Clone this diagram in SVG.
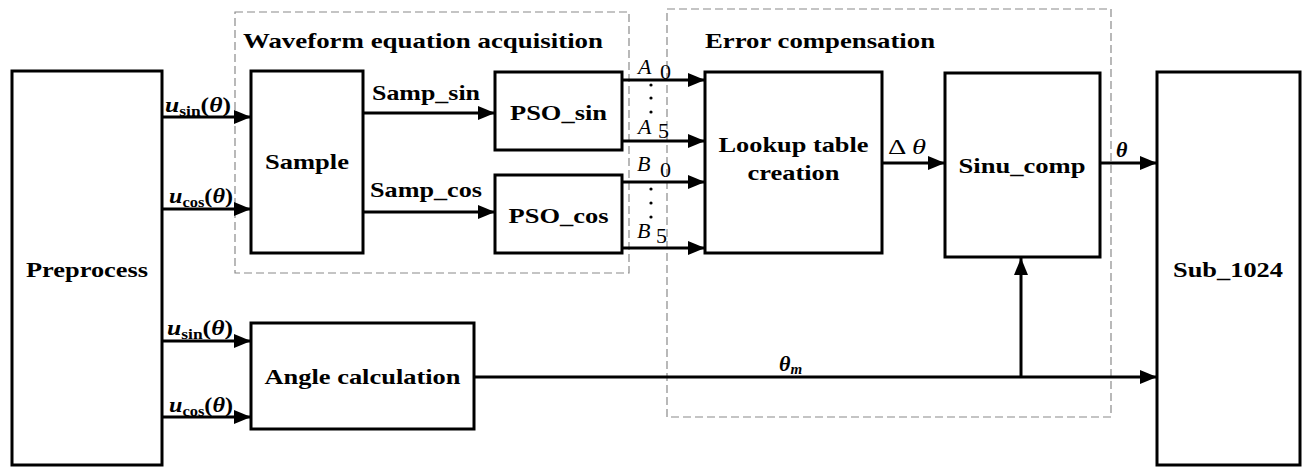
<svg xmlns="http://www.w3.org/2000/svg" width="1304" height="468" viewBox="0 0 1304 468" font-family="'Liberation Serif', 'Times New Roman', Times, serif">
<style>
text{font-family:'Liberation Serif','Times New Roman',Times,serif;fill:#000}
.b{font-weight:bold;font-size:22px}
.t{font-weight:bold;font-size:22px}
.m{font-size:22px}
.box{fill:#fff;stroke:#000;stroke-width:3}
.dash{fill:none;stroke:#8a8a8a;stroke-width:1.2;stroke-dasharray:8 4}
.ln{fill:none;stroke:#000;stroke-width:3}
.i{font-style:italic}
</style>
<defs>
<marker id="ah" markerUnits="userSpaceOnUse" markerWidth="18" markerHeight="14" refX="17" refY="7" orient="auto">
<path d="M0,0 L17,7 L0,14 z" fill="#000"/>
</marker>
</defs>
<rect width="1304" height="468" fill="#fff"/>

<g id="group-waveform">
<rect class="dash" x="235" y="12" width="394" height="261"/>
<text class="t" x="243" y="48" textLength="360" lengthAdjust="spacingAndGlyphs">Waveform equation acquisition</text>
</g>
<g id="group-error">
<rect class="dash" x="667" y="9" width="444" height="408"/>
<text class="t" x="705" y="48" textLength="230" lengthAdjust="spacingAndGlyphs">Error compensation</text>
</g>

<g id="connectors">
<line class="ln" x1="162" y1="117" x2="251" y2="117" marker-end="url(#ah)"/>
<line class="ln" x1="162" y1="209" x2="251" y2="209" marker-end="url(#ah)"/>
<line class="ln" x1="162" y1="341" x2="251" y2="341" marker-end="url(#ah)"/>
<line class="ln" x1="162" y1="417" x2="251" y2="417" marker-end="url(#ah)"/>
<line class="ln" x1="363" y1="113" x2="495" y2="113" marker-end="url(#ah)"/>
<line class="ln" x1="363" y1="212" x2="495" y2="212" marker-end="url(#ah)"/>
<line class="ln" x1="622" y1="80" x2="705" y2="80" marker-end="url(#ah)"/>
<line class="ln" x1="622" y1="141" x2="705" y2="141" marker-end="url(#ah)"/>
<line class="ln" x1="622" y1="182" x2="705" y2="182" marker-end="url(#ah)"/>
<line class="ln" x1="622" y1="248" x2="705" y2="248" marker-end="url(#ah)"/>
<line class="ln" x1="882" y1="163" x2="945" y2="163" marker-end="url(#ah)"/>
<line class="ln" x1="1100" y1="163" x2="1157" y2="163" marker-end="url(#ah)"/>
<line class="ln" x1="474" y1="377" x2="1157" y2="377" marker-end="url(#ah)"/>
<line class="ln" x1="1021" y1="377" x2="1021" y2="258" marker-end="url(#ah)"/>

<text class="b" x="165" y="112" textLength="66" lengthAdjust="spacingAndGlyphs"><tspan class="i">u</tspan><tspan font-size="15" dy="4">sin</tspan><tspan dy="-4">(</tspan><tspan class="i">θ</tspan>)</text>
<text class="b" x="169" y="203" textLength="64" lengthAdjust="spacingAndGlyphs"><tspan class="i">u</tspan><tspan font-size="15" dy="4">cos</tspan><tspan dy="-4">(</tspan><tspan class="i">θ</tspan>)</text>
<text class="b" x="167" y="335" textLength="66" lengthAdjust="spacingAndGlyphs"><tspan class="i">u</tspan><tspan font-size="15" dy="4">sin</tspan><tspan dy="-4">(</tspan><tspan class="i">θ</tspan>)</text>
<text class="b" x="169" y="412" textLength="64" lengthAdjust="spacingAndGlyphs"><tspan class="i">u</tspan><tspan font-size="15" dy="4">cos</tspan><tspan dy="-4">(</tspan><tspan class="i">θ</tspan>)</text>

<text class="b" x="372" y="100" textLength="108" lengthAdjust="spacingAndGlyphs">Samp_sin</text>
<text class="b" x="370" y="197" textLength="112" lengthAdjust="spacingAndGlyphs">Samp_cos</text>

<text class="m i" x="638" y="74">A</text><text class="m" x="660" y="79" font-size="14">0</text>
<circle cx="651" cy="85" r="1.6"/><circle cx="651" cy="98" r="1.6"/><circle cx="651" cy="112" r="1.6"/>
<text class="m i" x="638" y="134">A</text><text class="m" x="658" y="138" font-size="14">5</text>
<text class="m i" x="637" y="171">B</text><text class="m" x="660" y="177" font-size="14">0</text>
<circle cx="651" cy="189" r="1.6"/><circle cx="651" cy="203" r="1.6"/><circle cx="651" cy="217" r="1.6"/>
<text class="m i" x="637" y="238">B</text><text class="m" x="656" y="243" font-size="14">5</text>

<text class="m" x="888" y="154" textLength="38" lengthAdjust="spacingAndGlyphs">Δ <tspan class="i">θ</tspan></text>
<text class="b" x="1116" y="157"><tspan class="i">θ</tspan></text>
<text class="b" x="779" y="371"><tspan class="i">θ</tspan><tspan class="i" font-size="15" dy="3">m</tspan></text>
</g>

<g id="node-preprocess">
<rect class="box" x="12" y="71" width="150" height="394"/>
<text class="b" x="87" y="277" text-anchor="middle" textLength="122" lengthAdjust="spacingAndGlyphs">Preprocess</text>
</g>
<g id="node-sample">
<rect class="box" x="251" y="71" width="112" height="182"/>
<text class="b" x="307" y="169" text-anchor="middle" textLength="84" lengthAdjust="spacingAndGlyphs">Sample</text>
</g>
<g id="node-pso-sin">
<rect class="box" x="495" y="72" width="127" height="78"/>
<text class="b" x="558.5" y="120" text-anchor="middle" textLength="97" lengthAdjust="spacingAndGlyphs">PSO_sin</text>
</g>
<g id="node-pso-cos">
<rect class="box" x="495" y="175" width="127" height="78"/>
<text class="b" x="558.5" y="223" text-anchor="middle" textLength="100" lengthAdjust="spacingAndGlyphs">PSO_cos</text>
</g>
<g id="node-lookup">
<rect class="box" x="705" y="72" width="177" height="181"/>
<text class="b" x="793.5" y="152" text-anchor="middle" textLength="150" lengthAdjust="spacingAndGlyphs">Lookup table</text>
<text class="b" x="793.5" y="180" text-anchor="middle" textLength="92" lengthAdjust="spacingAndGlyphs">creation</text>
</g>
<g id="node-sinu-comp">
<rect class="box" x="945" y="73" width="155" height="184"/>
<text class="b" x="1022" y="173" text-anchor="middle" textLength="127" lengthAdjust="spacingAndGlyphs">Sinu_comp</text>
</g>
<g id="node-sub1024">
<rect class="box" x="1157" y="72" width="143" height="393"/>
<text class="b" x="1228" y="277" text-anchor="middle" textLength="110" lengthAdjust="spacingAndGlyphs">Sub_1024</text>
</g>
<g id="node-angle">
<rect class="box" x="251" y="323" width="223" height="106"/>
<text class="b" x="362.5" y="384" text-anchor="middle" textLength="196" lengthAdjust="spacingAndGlyphs">Angle calculation</text>
</g>
</svg>
